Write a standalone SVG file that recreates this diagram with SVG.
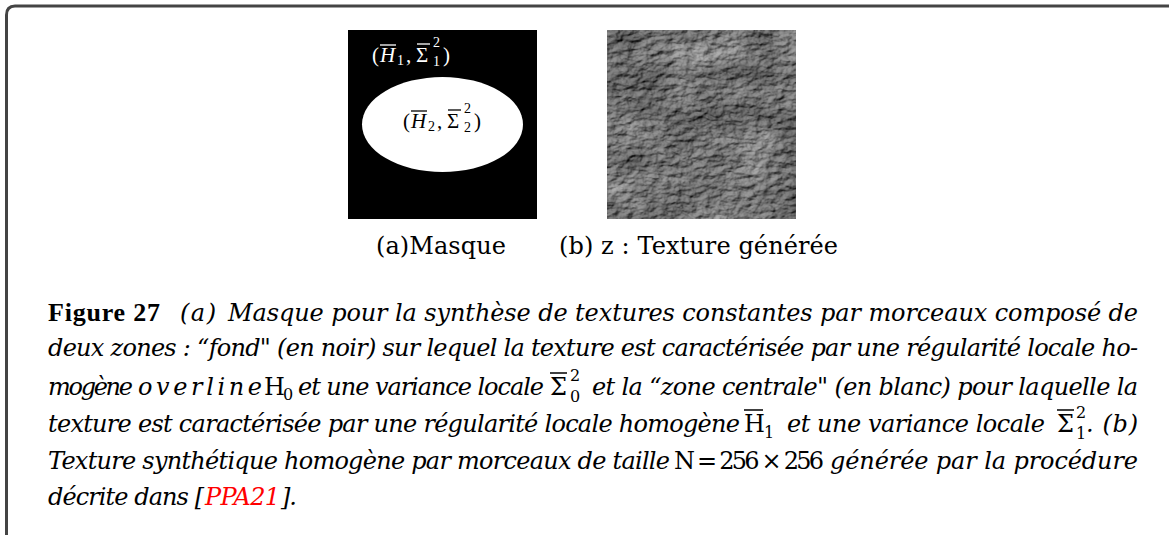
<svg xmlns="http://www.w3.org/2000/svg" width="1169" height="535" viewBox="0 0 1169 535">
<defs>
<style>
.t{font-family:"DejaVu Serif","Liberation Serif",serif;font-size:24px;fill:#000}
.i{font-style:italic}
.b{font-family:"Liberation Serif","DejaVu Serif",serif;font-weight:bold;font-size:26px}
.s{font-size:16px}
.m{font-family:"Liberation Serif","DejaVu Serif",serif;font-size:21px}
.ms{font-family:"Liberation Serif","DejaVu Serif",serif;font-size:14px}
.bar{stroke-width:1.3}
.red{fill:#ff0000}
</style>
<filter id="tex" filterUnits="userSpaceOnUse" x="607" y="30" width="189" height="189" color-interpolation-filters="sRGB">
<feTurbulence type="fractalNoise" baseFrequency="0.1 0.17" numOctaves="5" seed="7" result="n"/>
<feDiffuseLighting in="n" surfaceScale="2" diffuseConstant="1" lighting-color="#ffffff" result="l">
<feDistantLight azimuth="45" elevation="60"/>
</feDiffuseLighting>
<feComponentTransfer in="l" result="lg">
<feFuncR type="linear" slope="0.85" intercept="-0.28"/>
<feFuncG type="linear" slope="0.85" intercept="-0.28"/>
<feFuncB type="linear" slope="0.85" intercept="-0.28"/>
</feComponentTransfer>
<feTurbulence type="fractalNoise" baseFrequency="0.018 0.03" numOctaves="3" seed="3" result="lo"/>
<feColorMatrix in="lo" type="matrix" values="1 0 0 0 0  1 0 0 0 0  1 0 0 0 0  0 0 0 0 1" result="log"/>
<feComposite in="lg" in2="log" operator="arithmetic" k1="0" k2="1" k3="0.4" k4="-0.2"/>
</filter>
</defs>
<rect width="1169" height="535" fill="#fff"/>
<g id="frame">
<path d="M6.5,535 V15 Q6.5,6 15,6 H1169" fill="none" stroke="#444" stroke-width="3"/>
</g>
<g id="panel-a">
<rect x="348" y="30" width="189" height="189" fill="#000"/>
<ellipse cx="442.5" cy="124.5" rx="80.5" ry="47.5" fill="#fff"/>
<g fill="#fff" stroke="#fff">
<text class="m" x="372" y="62" stroke="none">(</text>
<text class="m i" x="380" y="62" stroke="none">H</text>
<line class="bar" x1="380" y1="45" x2="396" y2="45"/>
<text class="ms" x="397" y="65" stroke="none">1</text>
<text class="m" x="406" y="62" stroke="none">,</text>
<text class="m" x="416" y="62" stroke="none">Σ</text>
<line class="bar" x1="417" y1="44" x2="430" y2="44"/>
<text class="ms" x="433" y="47" stroke="none">2</text>
<text class="ms" x="433" y="66" stroke="none">1</text>
<text class="m" x="443" y="62" stroke="none">)</text>
</g>
<g fill="#000" stroke="#000">
<text class="m" x="403" y="128" stroke="none">(</text>
<text class="m i" x="411" y="128" stroke="none">H</text>
<line class="bar" x1="411" y1="111" x2="427" y2="111"/>
<text class="ms" x="428" y="131" stroke="none">2</text>
<text class="m" x="437" y="128" stroke="none">,</text>
<text class="m" x="447" y="128" stroke="none">Σ</text>
<line class="bar" x1="448" y1="110" x2="461" y2="110"/>
<text class="ms" x="464" y="113" stroke="none">2</text>
<text class="ms" x="464" y="132" stroke="none">2</text>
<text class="m" x="474" y="128" stroke="none">)</text>
</g>
<text class="t" x="376" y="254" textLength="130">(a)Masque</text>
</g>
<g id="panel-b">
<rect x="607" y="30" width="189" height="189" fill="#808080" filter="url(#tex)"/>
<text class="t" x="559" y="254" textLength="279">(b) z : Texture générée</text>
</g>
<g id="caption">
<text class="t b" x="48" y="321" textLength="112">Figure 27</text>
<text class="t i" x="180" y="321" textLength="36">(a)</text>
<text class="t i" x="228" y="321" textLength="910">Masque pour la synthèse de textures constantes par morceaux composé de</text>
<text class="t i" x="48" y="356" textLength="1090">deux zones : “fond" (en noir) sur lequel la texture est caractérisée par une régularité locale ho-</text>
<text class="t i" x="48" y="395" textLength="85">mogène</text>
<text class="t i" x="138" y="395" textLength="124">overline</text>
<text class="t" x="264" y="395">H</text>
<text class="t s" x="283" y="400">0</text>
<text class="t i" x="298" y="395" textLength="246">et une variance locale</text>
<text class="t" x="550" y="395">Σ</text>
<line x1="550" y1="373" x2="567" y2="373" stroke="#000" stroke-width="1.5"/>
<text class="t s" x="570" y="381">2</text>
<text class="t s" x="570" y="402">0</text>
<text class="t i" x="592" y="395" textLength="546">et la “zone centrale" (en blanc) pour laquelle la</text>
<text class="t i" x="48" y="432" textLength="692">texture est caractérisée par une régularité locale homogène</text>
<text class="t" x="744" y="432">H</text>
<line x1="744" y1="410" x2="763" y2="410" stroke="#000" stroke-width="1.5"/>
<text class="t s" x="764" y="438">1</text>
<text class="t i" x="787" y="432" textLength="258">et une variance locale</text>
<text class="t" x="1057" y="432">Σ</text>
<line x1="1057" y1="410" x2="1074" y2="410" stroke="#000" stroke-width="1.5"/>
<text class="t s" x="1076" y="418">2</text>
<text class="t s" x="1076" y="439">1</text>
<text class="t i" x="1086" y="432" textLength="52">. (b)</text>
<text class="t i" x="48" y="469" textLength="622">Texture synthétique homogène par morceaux de taille</text>
<text class="t" x="674" y="469" textLength="150">N = 256 × 256</text>
<text class="t i" x="830" y="469" textLength="308">générée par la procédure</text>
<text class="t i" x="48" y="505" textLength="156">décrite dans [</text>
<text class="t i red" x="205" y="505" textLength="75">PPA21</text>
<text class="t i" x="281" y="505" textLength="16">].</text>
</g>
</svg>
